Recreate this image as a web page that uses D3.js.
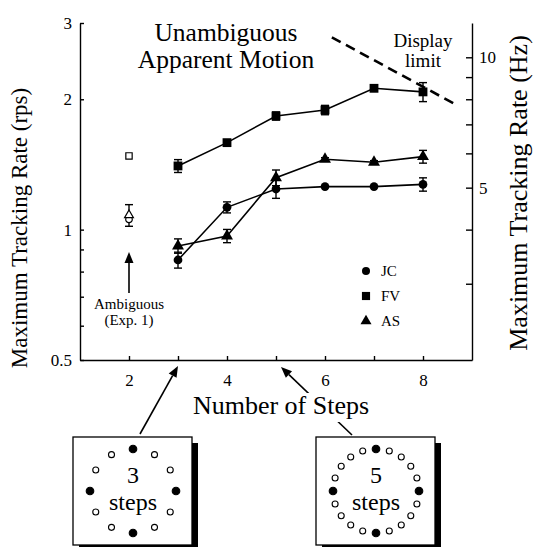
<!DOCTYPE html>
<html lang="en">
<head>
<meta charset="UTF-8">
<title>Maximum tracking rate</title>
<style>
    body {margin: 0; background: #fff;}
    text {font-family: "Liberation Serif", "Times New Roman", serif; fill: #000;}
</style>
</head>
<body>
<script src="https://cdn.jsdelivr.net/npm/d3@7"></script>
<script>
    const width = 539;
    const height = 547;

    // data (rps)
    const steps = [3, 4, 5, 6, 7, 8];
    const jc    = [0.851, 1.126, 1.241, 1.257, 1.257, 1.272];
    const jcErr = [0.036, 0.033, 0.060, 0, 0, 0.045];
    const fv    = [1.403, 1.588, 1.830, 1.889, 2.120, 2.080];
    const fvErr = [0.048, 0.018, 0.040, 0.047, 0.015, 0.105];
    const as    = [0.917, 0.967, 1.318, 1.454, 1.431, 1.474];
    const asErr = [0.035, 0.034, 0.055, 0.012, 0.012, 0.050];

    // ambiguous motion (Exp. 1), 2 steps
    const ambiguousStep = 2;
    const ambiguous   = [1.056, 1.48, 1.08];   // JC, FV, AS
    const ambiguousErr = [0, 0, 0.062];

    const displayLimit = [[6.14, 2.78], [8.65, 1.95]];

    const rpsTicks  = [0.5, 1, 2, 3];
    const rpsMinor  = [0.6, 0.7, 0.8, 0.9];
    const hzTicks   = [3, 4, 5, 6, 7, 8, 9, 10];
    const hzLabels  = [5, 10];
    const stepTicks = [2, 3, 4, 5, 6, 7, 8];
    const stepLabels = [2, 4, 6, 8];
    const boxSteps  = [3, 5];

    const subjects = ["JC", "FV", "AS"];
    const symbolTypes = [d3.symbolCircle, d3.symbolSquare, d3.symbolTriangle];
    const symbolSizes = [60, 78, 62];

    const svg = d3.select("body").append("svg")
        .attr("width", width).attr("height", height);

    const x  = d3.scaleLinear().domain([1, 9]).range([80, 472]);
    const y  = d3.scaleLog().domain([0.5, 3]).range([360, 23]);
    const hz = d3.scaleLog().domain([2, 12]).range([360, 23]);

    // axes
    const styleAxis = g => {
        g.selectAll("path, line").attr("stroke", "#000").attr("stroke-width", 1.4);
        g.selectAll("text").style("font-family", '"Liberation Serif", serif').style("font-size", "17px").attr("fill", "#000");
    };

    svg.append("g").attr("transform", "translate(80,0)")
        .call(d3.axisLeft(y).tickValues(rpsTicks).tickSizeInner(-4).tickSizeOuter(0).tickPadding(8)
            .tickFormat(d => d))
        .call(styleAxis);
    svg.append("g").attr("transform", "translate(80,0)")
        .call(d3.axisLeft(y).tickValues(rpsMinor).tickSizeInner(-4).tickSizeOuter(0).tickFormat(""))
        .call(g => g.select(".domain").remove())
        .call(styleAxis);

    svg.append("g").attr("transform", "translate(472,0)")
        .call(d3.axisRight(hz).tickValues(hzTicks).tickSizeInner(-6).tickSizeOuter(0).tickPadding(7)
            .tickFormat(d => hzLabels.includes(d) ? d : ""))
        .call(styleAxis);

    svg.append("g").attr("transform", "translate(0,360)")
        .call(d3.axisBottom(x).tickValues(stepTicks).tickSizeInner(-4).tickSizeOuter(0).tickPadding(14)
            .tickFormat(d => stepLabels.includes(d) ? d : ""))
        .call(styleAxis);

    // axis titles
    svg.append("text")
        .attr("transform", "translate(27,228) rotate(-90)")
        .attr("text-anchor", "middle")
        .style("font-size", "23px")
        .text("Maximum Tracking Rate (rps)");

    svg.append("text")
        .attr("transform", "translate(527,193) rotate(-90)")
        .attr("text-anchor", "middle")
        .style("font-size", "26px")
        .text("Maximum Tracking Rate (Hz)");

    // title
    const title = svg.append("text").attr("text-anchor", "middle").style("font-size", "25.5px");
    title.append("tspan").attr("x", 226).attr("y", 41).text("Unambiguous");
    title.append("tspan").attr("x", 226).attr("y", 68).text("Apparent Motion");

    // display limit
    svg.append("path")
        .attr("d", d3.line().x(d => x(d[0])).y(d => y(d[1]))(displayLimit))
        .attr("fill", "none").attr("stroke", "#000")
        .attr("stroke-width", 2.6).attr("stroke-dasharray", "10,6");

    const dl = svg.append("text").attr("text-anchor", "middle").style("font-size", "19px");
    dl.append("tspan").attr("x", 423).attr("y", 47).text("Display");
    dl.append("tspan").attr("x", 423).attr("y", 67).text("limit");

    // series
    const series = [jc, fv, as].map((vals, i) => ({
        name: subjects[i],
        symbol: symbolTypes[i],
        size: symbolSizes[i],
        points: steps.map((s, j) => ({s: s, v: vals[j], e: [jcErr, fvErr, asErr][i][j]}))
    }));

    const line = d3.line().x(d => x(d.s)).y(d => y(d.v));

    svg.selectAll("path.series")
        .data(series)
        .join("path")
        .attr("class", "series")
        .attr("d", d => line(d.points))
        .attr("fill", "none").attr("stroke", "#000").attr("stroke-width", 1.6);

    function errorBar(g, s, v, e) {
        if (!e) return;
        const cx = x(s), y0 = y(v - e), y1 = y(v + e);
        g.append("line").attr("x1", cx).attr("x2", cx).attr("y1", y0).attr("y2", y1);
        g.append("line").attr("x1", cx - 4).attr("x2", cx + 4).attr("y1", y0).attr("y2", y0);
        g.append("line").attr("x1", cx - 4).attr("x2", cx + 4).attr("y1", y1).attr("y2", y1);
    }

    const errG = svg.append("g").attr("stroke", "#000").attr("stroke-width", 1.4);
    series.forEach(sr => sr.points.forEach(p => errorBar(errG, p.s, p.v, p.e)));
    ambiguous.forEach((v, i) => errorBar(errG, ambiguousStep, v, ambiguousErr[i]));

    series.forEach(sr => {
        svg.append("g").selectAll("path")
            .data(sr.points)
            .join("path")
            .attr("transform", d => `translate(${x(d.s)},${y(d.v)})`)
            .attr("d", d3.symbol().type(sr.symbol).size(sr.size))
            .attr("fill", "#000");
    });

    // open symbols (ambiguous)
    const openSizes = [34, 40, 34];
    svg.append("g").selectAll("path")
        .data(ambiguous)
        .join("path")
        .attr("transform", d => `translate(${x(ambiguousStep)},${y(d)})`)
        .attr("d", (d, i) => d3.symbol().type(symbolTypes[i]).size(openSizes[i])())
        .attr("fill", "#fff").attr("stroke", "#000").attr("stroke-width", 1.2);

    // legend
    const legend = svg.append("g").attr("transform", "translate(366,271)");
    subjects.forEach((name, i) => {
        const row = legend.append("g").attr("transform", `translate(0,${i * 25})`);
        row.append("path").attr("d", d3.symbol().type(symbolTypes[i]).size(symbolSizes[i] * 0.85)).attr("fill", "#000");
        row.append("text").attr("x", 15).attr("y", 5).style("font-size", "15px").text(name);
    });

    // arrows
    function arrow(x1, y1, x2, y2) {
        const a = Math.atan2(y2 - y1, x2 - x1);
        const len = 11, hw = 4.5;
        const bx = x2 - len * Math.cos(a), by = y2 - len * Math.sin(a);
        svg.append("line").attr("x1", x1).attr("y1", y1).attr("x2", bx).attr("y2", by)
            .attr("stroke", "#000").attr("stroke-width", 1.6);
        svg.append("path")
            .attr("d", `M${x2},${y2}L${bx - hw * Math.sin(a)},${by + hw * Math.cos(a)}L${bx + hw * Math.sin(a)},${by - hw * Math.cos(a)}Z`)
            .attr("fill", "#000");
    }

    arrow(x(ambiguousStep), 293, x(ambiguousStep), 252);
    const amb = svg.append("text").attr("text-anchor", "middle").style("font-size", "15px");
    amb.append("tspan").attr("x", x(ambiguousStep)).attr("y", 309).text("Ambiguous");
    amb.append("tspan").attr("x", x(ambiguousStep)).attr("y", 325).text("(Exp. 1)");

    arrow(140, 434, x(3), 366);
    arrow(352, 435, x(5) + 5, 367);

    // x title with white backing that breaks the arrow
    const xt = svg.append("text")
        .attr("x", 281).attr("y", 414)
        .attr("text-anchor", "middle")
        .style("font-size", "26px")
        .text("Number of Steps");
    const bb = xt.node().getBBox();
    svg.insert("rect", () => xt.node())
        .attr("x", bb.x - 2).attr("y", bb.y + 2).attr("width", bb.width + 4).attr("height", bb.height)
        .attr("fill", "#fff");

    // step diagrams
    const boxX = [73, 316];
    boxSteps.forEach((n, bi) => {
        const bw = 119, bh = 108, bx = boxX[bi], by = 437;
        const g = svg.append("g").attr("transform", `translate(${bx},${by})`);
        g.append("rect").attr("x", 6).attr("y", 6).attr("width", bw).attr("height", bh).attr("fill", "#000");
        g.append("rect").attr("width", bw).attr("height", bh)
            .attr("fill", "#fff").attr("stroke", "#000").attr("stroke-width", 1.3);
        const cx = bw / 2 + 0.5, cy = bh / 2;
        const total = n * 4;
        d3.range(total).forEach(k => {
            const ang = k / total * 2 * Math.PI;
            const filled = k % n === 0;
            g.append("circle")
                .attr("cx", cx + 43 * Math.sin(ang))
                .attr("cy", cy - 42 * Math.cos(ang))
                .attr("r", filled ? 3.8 : 3)
                .attr("fill", filled ? "#000" : "#fff")
                .attr("stroke", "#000").attr("stroke-width", 1.1);
        });
        g.append("text").attr("x", cx).attr("y", 46).attr("text-anchor", "middle")
            .style("font-size", "24px").text(n);
        g.append("text").attr("x", cx).attr("y", 73).attr("text-anchor", "middle")
            .style("font-size", "24px").text("steps");
    });
</script>
</body>
</html>
